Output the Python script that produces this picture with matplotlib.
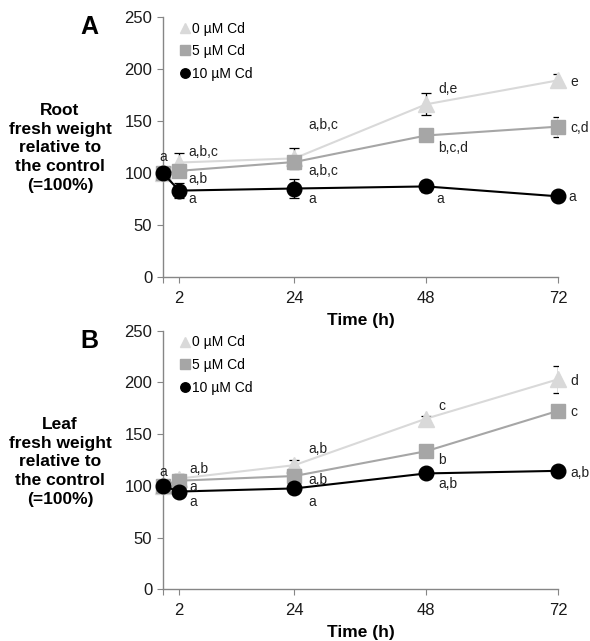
import matplotlib
matplotlib.use("Agg")
import matplotlib.pyplot as plt
from matplotlib.lines import Line2D

plt.rcParams['font.family'] = ['Liberation Sans', 'DejaVu Sans']

# sampling times (x position) and the labels shown on the axis
time_pos = [0, 3, 24, 48, 72]
time_labels = ["", "2", "24", "48", "72"]

series_names = ["0 µM Cd", "5 µM Cd", "10 µM Cd"]

# root fresh weight, % of control
root_0 = [100, 110, 114, 166, 189]
root_5 = [100, 102, 110.5, 136, 144.5]
root_10 = [100, 83, 85, 87, 77.5]
root_0_err = [0, 9.5, 10, 10.5, 6]
root_5_err = [0, 3, 3, 3, 9.5]
root_10_err = [0, 7, 9.5, 5, 3]

# leaf fresh weight, % of control
leaf_0 = [100, 107, 120, 165, 203]
leaf_5 = [100, 105, 109.5, 133.5, 172.5]
leaf_10 = [100, 94.5, 97.5, 112, 114.5]
leaf_0_err = [0, 4.5, 5, 3, 13]
leaf_5_err = [0, 3, 3, 3, 3]
leaf_10_err = [0, 2, 2, 2, 2]

# significance letters: (x, y, text)
root_letters = [
    (-0.6, 115, "a"),
    (4.7, 120, "a,b,c"), (4.7, 94.5, "a,b"), (4.7, 74.5, "a"),
    (26.5, 146, "a,b,c"), (26.5, 102, "a,b,c"), (26.5, 74.5, "a"),
    (50.2, 180.5, "d,e"), (50.2, 124, "b,c,d"), (49.8, 74.5, "a"),
    (74.2, 187, "e"), (74.2, 143.5, "c,d"), (73.8, 76.5, "a"),
]
leaf_letters = [
    (-0.6, 113.5, "a"),
    (4.8, 116, "a,b"), (4.8, 99, "a"), (4.8, 84, "a"),
    (26.5, 135.5, "a,b"), (26.5, 105.5, "a,b"), (26.5, 84, "a"),
    (50.2, 177.5, "c"), (50.2, 125, "b"), (50.2, 102, "a,b"),
    (74.2, 201, "d"), (74.2, 171.5, "c"), (74.2, 112, "a,b"),
]

styles = [
    dict(color="#d9d9d9", marker="^", ms=12),
    dict(color="#a6a6a6", marker="s", ms=10),
    dict(color="#000000", marker="o", ms=10.5),
]
axis_grey = "#868686"


def draw_panel(ax, values, errors, letters):
    for vals, errs, st in zip(values, errors, styles):
        ax.errorbar(time_pos, vals, yerr=errs, fmt="none", ecolor="black",
                    elinewidth=0.9, capsize=3.5, capthick=0.9, zorder=2)
        ax.plot(time_pos, vals, color=st["color"], lw=1.5, marker=st["marker"],
                ms=st["ms"], mfc=st["color"], mec=st["color"], zorder=3,
                clip_on=False)
    for x, y, s in letters:
        ax.text(x, y, s, fontsize=10, ha="left", va="center", clip_on=False,
                color="#222222")

    ax.set_xlim(0, 72)
    ax.set_ylim(0, 250)
    ax.set_xticks(time_pos)
    ax.set_xticklabels(time_labels)
    ax.set_yticks(range(0, 251, 50))
    for side in ["top", "right"]:
        ax.spines[side].set_visible(False)
    for side in ["left", "bottom"]:
        ax.spines[side].set_color(axis_grey)
        ax.spines[side].set_linewidth(1.0)
    ax.tick_params(direction="out", length=4, color=axis_grey, labelsize=12,
                   labelcolor="#1a1a1a")
    ax.tick_params(axis="x", pad=6)

    handles = [Line2D([], [], ls="none", marker=st["marker"], color=st["color"],
                      ms=st["ms"] * 0.65) for st in styles]
    ax.legend(handles, series_names, loc="upper left", frameon=False,
              bbox_to_anchor=(0.033, 1.003), fontsize=10, handlelength=0.5,
              handletextpad=0.25, labelspacing=0.62, borderaxespad=0)


fig = plt.figure(figsize=(5.9, 6.41), dpi=100)
ax_a = fig.add_axes([0.2758, 0.568, 0.670, 0.4056])
ax_b = fig.add_axes([0.2758, 0.0807, 0.670, 0.4034])

draw_panel(ax_a, [root_0, root_5, root_10],
           [root_0_err, root_5_err, root_10_err], root_letters)
draw_panel(ax_b, [leaf_0, leaf_5, leaf_10],
           [leaf_0_err, leaf_5_err, leaf_10_err], leaf_letters)

# panel letters, axis titles and the horizontal y labels
fig.text(89 / 590, 1 - 27 / 641, "A", fontsize=18, fontweight="bold",
         ha="center", va="center")
fig.text(89 / 590, 1 - 341 / 641, "B", fontsize=18, fontweight="bold",
         ha="center", va="center")
fig.text(361 / 590, 1 - 320 / 641, "Time (h)", fontsize=12.5, fontweight="bold",
         ha="center", va="center")
fig.text(361 / 590, 1 - 632 / 641, "Time (h)", fontsize=12.5, fontweight="bold",
         ha="center", va="center")
fig.text(60 / 590, 1 - 148 / 641,
         "Root\nfresh weight\nrelative to\nthe control\n(=100%)",
         fontsize=12.5, fontweight="bold", ha="center", va="center",
         linespacing=1.3)
fig.text(60 / 590, 1 - 462 / 641,
         "Leaf\nfresh weight\nrelative to\nthe control\n(=100%)",
         fontsize=12.5, fontweight="bold", ha="center", va="center",
         linespacing=1.3)

fig.savefig("out.png", dpi=100)
